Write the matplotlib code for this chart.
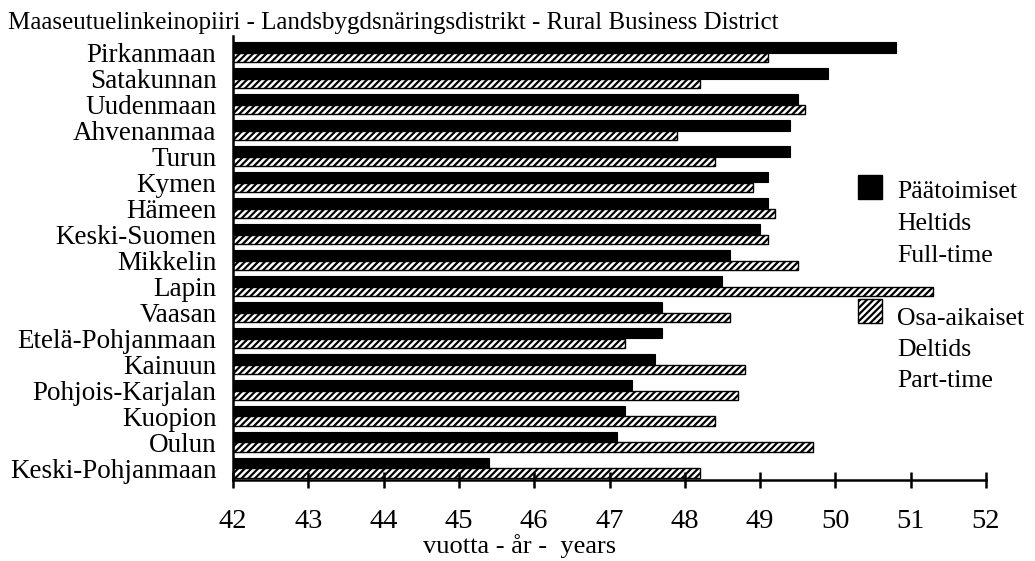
import matplotlib
matplotlib.use("Agg")
import matplotlib.pyplot as plt
import numpy as np
from matplotlib.patches import Rectangle

plt.rcParams['font.family'] = ['Liberation Serif', 'DejaVu Serif']
plt.rcParams['hatch.linewidth'] = 1.6

categories = ["Pirkanmaan", "Satakunnan", "Uudenmaan", "Ahvenanmaa", "Turun", "Kymen",
              "Hämeen", "Keski-Suomen", "Mikkelin", "Lapin", "Vaasan", "Etelä-Pohjanmaan",
              "Kainuun", "Pohjois-Karjalan", "Kuopion", "Oulun", "Keski-Pohjanmaan"]
full_time = [50.8, 49.9, 49.5, 49.4, 49.4, 49.1, 49.1, 49.0, 48.6, 48.5, 47.7, 47.7,
             47.6, 47.3, 47.2, 47.1, 45.4]
part_time = [49.1, 48.2, 49.6, 47.9, 48.4, 48.9, 49.2, 49.1, 49.5, 51.3, 48.6, 47.2,
             48.8, 48.7, 48.4, 49.7, 48.2]
x_ticks = [42, 43, 44, 45, 46, 47, 48, 49, 50, 51, 52]

title = "Maaseutuelinkeinopiiri - Landsbygdsnäringsdistrikt - Rural Business District"
xlabel = "vuotta - år -  years"
legend_full = ["Päätoimiset", "Heltids", "Full-time"]
legend_part = ["Osa-aikaiset", "Deltids", "Part-time"]

W, H = 1035, 561
fig = plt.figure(figsize=(W / 100, H / 100), dpi=100)
ax = fig.add_axes([233 / W, 1 - 480 / H, 753 / W, 444 / H])

y = np.arange(len(categories))
base = 42
ax.barh(y - 0.2, np.array(full_time) - base, left=base, height=0.41,
        color='black', edgecolor='black', linewidth=0.8)
ax.barh(y + 0.2, np.array(part_time) - base, left=base, height=0.37,
        color='white', edgecolor='black', hatch='/////', linewidth=1.0)

ax.set_xlim(42, 52)
ax.set_ylim(16.46, -0.635)
ax.set_xticks(x_ticks)
ax.set_xticklabels([str(t) for t in x_ticks], fontsize=20.5)
ax.set_yticks(y)
ax.set_yticklabels(categories, fontsize=19.5)
ax.tick_params(axis='y', length=0, pad=12)
ax.tick_params(axis='x', direction='inout', length=12, width=1.8, pad=15)
for s in ['top', 'right']:
    ax.spines[s].set_visible(False)
ax.spines['left'].set_linewidth(1.8)
ax.spines['bottom'].set_linewidth(1.8)

fig.text(8 / W, 1 - 23 / H, title, fontsize=18, ha='left', va='center')
fig.text(520 / W, 1 - 546 / H, xlabel, fontsize=19, ha='center', va='center')

# legend
sq = 24
fig.patches.append(Rectangle((858 / W, 1 - 199 / H), sq / W, sq / H,
                             transform=fig.transFigure, facecolor='black',
                             edgecolor='black'))
fig.patches.append(Rectangle((858 / W, 1 - 323 / H), sq / W, sq / H,
                             transform=fig.transFigure, facecolor='white',
                             edgecolor='black', hatch='/////', linewidth=1.0))
for i, t in enumerate(legend_full):
    fig.text(897 / W, 1 - (192 + 32 * i) / H, t, fontsize=18.5, ha='left', va='center')
for i, t in enumerate(legend_part):
    fig.text(897 / W, 1 - (319 + 31 * i) / H, t, fontsize=18.5, ha='left', va='center')

fig.savefig("out.png", dpi=100)
